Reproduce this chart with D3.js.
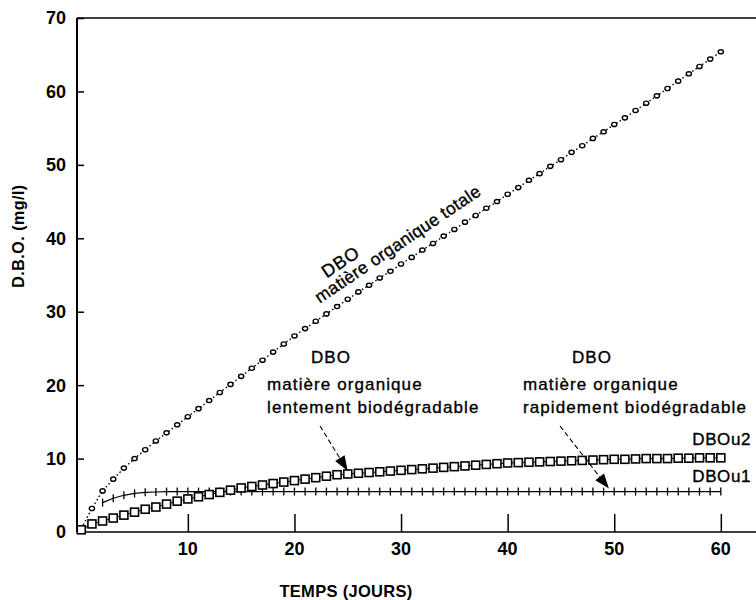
<!DOCTYPE html>
<html>
<head>
<meta charset="utf-8">
<script src="https://cdn.jsdelivr.net/npm/d3@7"></script>
<style>
  body { margin: 0; background: #fff; }
  svg { display: block; }
  text { font-family: "Liberation Sans", Arial, sans-serif; fill: #000; }
</style>
</head>
<body>
<svg id="chart" width="756" height="600"></svg>
<script>
// ---- data ----
const days = d3.range(0, 61);
const dboTotale = [0.5, 3.2, 5.6, 7.2, 8.7, 10.0, 11.2, 12.4, 13.5, 14.6,
  15.7, 16.8, 17.9, 19.0, 20.1, 21.2, 22.3, 23.4, 24.5, 25.6,
  26.7, 27.7, 28.7, 29.7, 30.7, 31.7, 32.7, 33.6, 34.6, 35.5,
  36.5, 37.4, 38.4, 39.3, 40.3, 41.2, 42.2, 43.1, 44.1, 45.0,
  46.0, 46.9, 47.9, 48.8, 49.8, 50.7, 51.7, 52.6, 53.6, 54.5,
  55.5, 56.4, 57.4, 58.4, 59.4, 60.4, 61.4, 62.4, 63.4, 64.4, 65.4];
const dboU2 = [0.3, 1.1, 1.5, 1.9, 2.3, 2.7, 3.1, 3.4, 3.8, 4.2,
  4.5, 4.8, 5.1, 5.4, 5.7, 6.0, 6.2, 6.4, 6.6, 6.8,
  7.0, 7.2, 7.4, 7.6, 7.8, 7.9, 8.0, 8.1, 8.2, 8.3,
  8.4, 8.5, 8.6, 8.7, 8.8, 8.9, 9.0, 9.1, 9.2, 9.3,
  9.4, 9.45, 9.5, 9.55, 9.6, 9.65, 9.7, 9.75, 9.8, 9.85,
  9.9, 9.9, 9.95, 10.0, 10.0, 10.0, 10.05, 10.05, 10.1, 10.1, 10.1];
const daysU1 = d3.range(2, 61);
const dboU1 = [4.0, 4.6, 5.0, 5.25, 5.4, 5.45, 5.5, 5.5,
  5.5, 5.5, 5.5, 5.5, 5.5, 5.5, 5.5, 5.5, 5.5, 5.5,
  5.5, 5.5, 5.5, 5.5, 5.5, 5.5, 5.5, 5.5, 5.5, 5.5,
  5.5, 5.5, 5.5, 5.5, 5.5, 5.5, 5.5, 5.5, 5.5, 5.5,
  5.5, 5.5, 5.5, 5.5, 5.5, 5.5, 5.5, 5.5, 5.5, 5.5,
  5.5, 5.5, 5.5, 5.5, 5.5, 5.5, 5.5, 5.5, 5.5, 5.5, 5.5];
const xTicks = [10, 20, 30, 40, 50, 60];
const yTicks = [0, 10, 20, 30, 40, 50, 60, 70];
const xTitle = "TEMPS (JOURS)";
const yTitle = "D.B.O. (mg/l)";

// ---- scales ----
const svg = d3.select("#chart");
const x = d3.scaleLinear().domain([-0.4, 63.3]).range([77, 756]);
const y = d3.scaleLinear().domain([0, 70]).range([532, 18]);

// ---- frame ----
svg.append("line").attr("x1", x.range()[0]).attr("x2", x.range()[1])
  .attr("y1", y(70)).attr("y2", y(70)).attr("stroke", "#000").attr("stroke-width", 1.6);

// y axis
const yAxis = svg.append("g").attr("transform", `translate(${x.range()[0]},0)`)
  .call(d3.axisRight(y).tickValues(yTicks).tickSize(7).tickFormat(""));
yAxis.select(".domain").attr("stroke-width", 2).attr("d", `M0,${y(0)}V${y(70)}`);
yAxis.selectAll(".tick line").attr("stroke-width", 1.5);
svg.append("g").selectAll("text").data(yTicks).join("text")
  .attr("x", 66).attr("y", d => y(d)).attr("dy", "0.36em")
  .attr("text-anchor", "end").attr("font-size", 18).attr("font-weight", "bold")
  .text(d => d);

// x axis
const xAxis = svg.append("g").attr("transform", `translate(0,${y(0)})`)
  .call(d3.axisTop(x).tickValues(xTicks).tickSize(18).tickFormat(""));
xAxis.select(".domain").attr("stroke-width", 1.6).attr("d", `M${x.range()[0]},0H${x.range()[1]}`);
xAxis.selectAll(".tick line").attr("stroke-width", 1.5);
svg.append("g").selectAll("text").data(xTicks).join("text")
  .attr("x", d => x(d)).attr("y", 555)
  .attr("text-anchor", "middle").attr("font-size", 18).attr("font-weight", "bold")
  .text(d => d);

svg.append("text").attr("x", 346).attr("y", 597).attr("text-anchor", "middle")
  .attr("font-size", 16.5).attr("font-weight", "bold").attr("letter-spacing", 0.3).text(xTitle);
svg.append("text").attr("transform", "translate(24,236) rotate(-90)")
  .attr("text-anchor", "middle").attr("font-size", 16).attr("font-weight", "bold")
  .attr("letter-spacing", 0.5).text(yTitle);

// ---- series ----
const line = d3.line().x(d => x(d[0])).y(d => y(d[1]));

// totale : dotted line + small circles
const tot = days.map((d, i) => [d, dboTotale[i]]);
svg.append("path").attr("d", line(tot)).attr("fill", "none")
  .attr("stroke", "#000").attr("stroke-width", 1.4).attr("stroke-dasharray", "1.5,2.5");
svg.append("g").selectAll("ellipse").data(tot).join("ellipse")
  .attr("cx", d => x(d[0])).attr("cy", d => y(d[1]))
  .attr("rx", 2.6).attr("ry", 2.1)
  .attr("fill", "#fff").attr("stroke", "#000").attr("stroke-width", 1.4);

// DBOu1 : line with + ticks
const u1 = daysU1.map((d, i) => [d, dboU1[i]]);
svg.append("path").attr("d", line(u1)).attr("fill", "none")
  .attr("stroke", "#000").attr("stroke-width", 1.2);
svg.append("g").selectAll("line").data(u1).join("line")
  .attr("x1", d => x(d[0])).attr("x2", d => x(d[0]))
  .attr("y1", d => y(d[1]) - 4).attr("y2", d => y(d[1]) + 4)
  .attr("stroke", "#000").attr("stroke-width", 1.3);

// DBOu2 : squares
const u2 = days.map((d, i) => [d, dboU2[i]]);
svg.append("path").attr("d", line(u2)).attr("fill", "none")
  .attr("stroke", "#000").attr("stroke-width", 1);
svg.append("g").selectAll("rect").data(u2).join("rect")
  .attr("x", d => x(d[0]) - 4).attr("y", d => y(d[1]) - 4)
  .attr("width", 8).attr("height", 8)
  .attr("fill", "#fff").attr("stroke", "#000").attr("stroke-width", 1.6);

// ---- annotations ----
const ann = svg.append("g").attr("font-size", 17).attr("letter-spacing", 1.1)
  .attr("stroke", "#000").attr("stroke-width", 0.35);
// rotated label for totale
ann.append("text").attr("transform", "translate(344,267) rotate(-34)")
  .attr("text-anchor", "middle").attr("font-size", 18).attr("letter-spacing", 0.8).text("DBO");
ann.append("text").attr("transform", "translate(401,249) rotate(-34)")
  .attr("text-anchor", "middle").attr("font-size", 17.5).attr("letter-spacing", 0.3).text("matière organique totale");

// slowly biodegradable
ann.append("text").attr("x", 331).attr("y", 363).attr("text-anchor", "middle").text("DBO");
ann.append("text").attr("x", 267).attr("y", 390).text("matière organique");
ann.append("text").attr("x", 267).attr("y", 413).text("lentement biodégradable");
// rapidly biodegradable
ann.append("text").attr("x", 592).attr("y", 363).attr("text-anchor", "middle").text("DBO");
ann.append("text").attr("x", 523).attr("y", 390).text("matière organique");
ann.append("text").attr("x", 523).attr("y", 413).text("rapidement biodégradable");
// series names
ann.append("text").attr("x", 751).attr("y", 445).attr("text-anchor", "end").attr("letter-spacing", 0.6).text("DBOu2");
ann.append("text").attr("x", 751).attr("y", 482).attr("text-anchor", "end").attr("letter-spacing", 0.6).text("DBOu1");

// arrows
function arrow(x0, y0, x1, y1) {
  const g = svg.append("g");
  const ang = Math.atan2(y1 - y0, x1 - x0);
  const L = 15, W = 5.5;
  const bx = x1 - L * Math.cos(ang), by = y1 - L * Math.sin(ang);
  g.append("line").attr("x1", x0).attr("y1", y0).attr("x2", bx).attr("y2", by)
    .attr("stroke", "#000").attr("stroke-width", 1.1).attr("stroke-dasharray", "5,3");
  const px = -Math.sin(ang) * W, py = Math.cos(ang) * W;
  g.append("path").attr("d", `M${x1},${y1}L${bx + px},${by + py}L${bx - px},${by - py}Z`)
    .attr("fill", "#000");
}
arrow(320, 426, x(25), y(dboU2[25]) - 3);
arrow(560, 426, x(49.5), y(5.5) - 3);
</script>
</body>
</html>
